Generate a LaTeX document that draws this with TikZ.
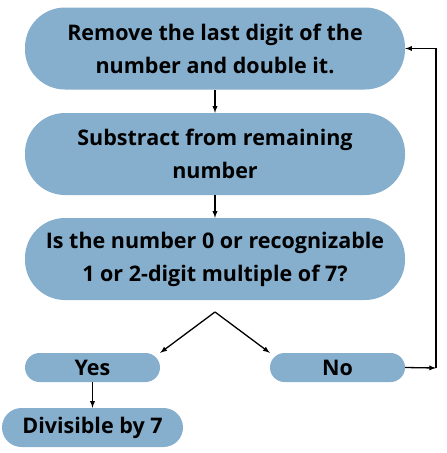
\documentclass[tikz,border=0pt]{standalone}
\usepackage{fontspec}
\setmainfont{Open Sans}
\usepackage{xcolor}
\definecolor{boxblue}{HTML}{86AFCE}

\begin{document}
\begin{tikzpicture}[x=1pt,y=-1pt,
    flowbox/.style={fill=boxblue,rounded corners=40pt,minimum width=380pt,minimum height=82pt,align=center,font=\fontsize{21.5}{33}\selectfont\bfseries},
    smallbox/.style={fill=boxblue,rounded corners=14.5pt,minimum width=135pt,minimum height=29pt,font=\fontsize{21.5}{24}\selectfont\bfseries},
    link/.style={-latex,line width=1.3pt}]
        \useasboundingbox (0,0) rectangle (447,453);
        % boxes
        \node[flowbox] (remove) at (215,48.5) {Remove the last digit of the\\number and double it.};
        \node[flowbox] (subtract) at (215,154) {Substract from remaining\\number};
        \node[flowbox] (check) at (215,259) {Is the number 0 or recognizable\\1 or 2-digit multiple of 7?};
        \node[smallbox] (yes) at (92.5,367.5) {Yes};
        \node[smallbox] (no) at (337.5,367.5) {No};
        \node[smallbox,rounded corners=19.5pt,minimum width=181pt,minimum height=39pt] (divisible) at (92.5,427.5) {Divisible by 7};
        \coordinate (split) at (215,312);
        \coordinate (loopdown) at (436,368);
        \coordinate (loopup) at (436,48.5);
        % arrows
        \draw[link] (remove) -- (subtract);
        \draw[link] (subtract) -- (check);
        \draw[link] (split) -- (yes.north east);
        \draw[link] (split) -- (no.north west);
        \draw[link] (yes) -- (divisible);
        \draw[link] (no.east) -- (loopdown);
        \draw[link] (loopdown) -- (loopup) -- (remove.east);
    \end{tikzpicture}
\end{document}
